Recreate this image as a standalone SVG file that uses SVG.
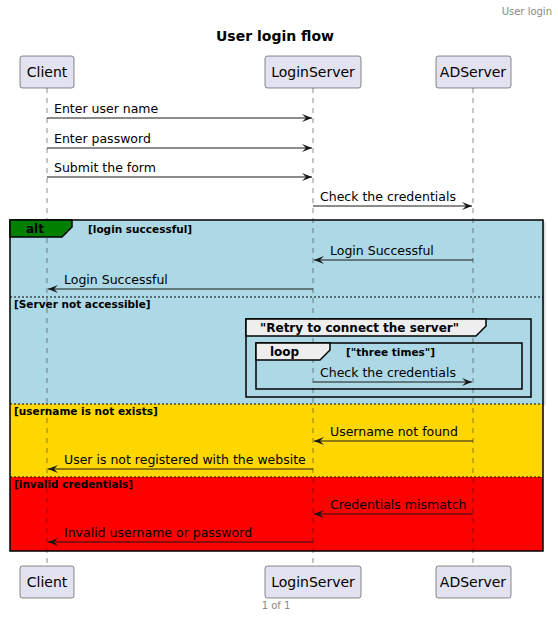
<svg xmlns="http://www.w3.org/2000/svg" width="558" height="618" viewBox="0 0 558 618">
<defs>
<marker id="ah" viewBox="0 0 10 8" refX="10" refY="4" markerWidth="10" markerHeight="8" markerUnits="userSpaceOnUse" orient="auto">
<path d="M0,0 L10,4 L0,8 L4,4 Z" fill="#181818"/>
</marker>
<filter id="sh" x="-5%" y="-5%" width="110%" height="110%">
<feDropShadow dx="1.5" dy="1.5" stdDeviation="1" flood-color="#000" flood-opacity="0.3"/>
</filter>
</defs>
<style>
text{font-family:"DejaVu Sans","Noto Sans",sans-serif;fill:#000}
.p rect{fill:#E2E2F0;stroke:#181818;stroke-width:0.5}
.p text{font-size:14px;text-anchor:middle}
.life{stroke:#181818;stroke-width:0.5;stroke-dasharray:5,5}
.msg{stroke:#181818;stroke-width:1;fill:none;marker-end:url(#ah)}
.ml{font-size:12.5px}
.g{font-size:10.5px;font-weight:bold}
.sep{stroke:#000;stroke-width:1;stroke-dasharray:2,2}
.fr{fill:none;stroke:#000;stroke-width:1.5}
.tab{stroke:#000;stroke-width:1.5}
</style>
<rect width="558" height="618" fill="#fff"/>
<text x="552" y="15" font-size="10" fill="#888" style="fill:#888" text-anchor="end">User login</text>
<text x="275" y="41" font-size="14" font-weight="bold" text-anchor="middle">User login flow</text>

<g id="frames">
<rect x="10" y="220" width="533" height="184" fill="#ADD8E6" filter="url(#sh)"/>
<rect x="10" y="404" width="533" height="73" fill="#FFD700"/>
<rect x="10" y="477" width="533" height="74" fill="#FF0000"/>
</g>

<g id="lifelines">
<line class="life" x1="47" y1="88" x2="47" y2="566"/>
<line class="life" x1="313" y1="88" x2="313" y2="566"/>
<line class="life" x1="473" y1="88" x2="473" y2="566"/>
</g>

<g id="alt">
<rect class="fr" x="10" y="220" width="533" height="331"/>
<path class="tab" d="M10,220 H72 V227 L62,237 H10 Z" fill="#008000"/>
<text x="26" y="233" font-size="12" font-weight="bold">alt</text>
<text class="g" x="88" y="233">[login successful]</text>
<line class="sep" x1="10" y1="297" x2="543" y2="297"/>
<text class="g" x="14" y="308">[Server not accessible]</text>
<line class="sep" x1="10" y1="404" x2="543" y2="404"/>
<text class="g" x="14" y="415">[username is not exists]</text>
<line class="sep" x1="10" y1="477" x2="543" y2="477"/>
<text class="g" x="14" y="488">[invalid credentials]</text>
</g>

<g id="group-retry">
<rect class="fr" x="246" y="319" width="285" height="78"/>
<path class="tab" d="M246,319 H486 V326 L476,336 H246 Z" fill="#EEEEEE"/>
<text x="260" y="332" font-size="12" font-weight="bold">"Retry to connect the server"</text>
</g>

<g id="loop">
<rect class="fr" x="256" y="343" width="266" height="46"/>
<path class="tab" d="M256,343 H330 V350 L320,360 H256 Z" fill="#EEEEEE"/>
<text x="270" y="356" font-size="12" font-weight="bold">loop</text>
<text class="g" x="346" y="356">["three times"]</text>
</g>

<g id="connectors">
<line class="msg" x1="47" y1="118" x2="312" y2="118"/>
<text class="ml" x="54" y="113">Enter user name</text>
<line class="msg" x1="47" y1="148" x2="312" y2="148"/>
<text class="ml" x="54" y="143">Enter password</text>
<line class="msg" x1="47" y1="177" x2="312" y2="177"/>
<text class="ml" x="54" y="172">Submit the form</text>
<line class="msg" x1="313" y1="206" x2="472" y2="206"/>
<text class="ml" x="320" y="201">Check the credentials</text>
<line class="msg" x1="473" y1="260" x2="314" y2="260"/>
<text class="ml" x="330" y="255">Login Successful</text>
<line class="msg" x1="313" y1="289" x2="48" y2="289"/>
<text class="ml" x="64" y="284">Login Successful</text>
<line class="msg" x1="313" y1="382" x2="472" y2="382"/>
<text class="ml" x="320" y="377">Check the credentials</text>
<line class="msg" x1="473" y1="441" x2="314" y2="441"/>
<text class="ml" x="330" y="436">Username not found</text>
<line class="msg" x1="313" y1="469" x2="48" y2="469"/>
<text class="ml" x="64" y="464">User is not registered with the website</text>
<line class="msg" x1="473" y1="514" x2="314" y2="514"/>
<text class="ml" x="330" y="509">Credentials mismatch</text>
<line class="msg" x1="313" y1="542" x2="48" y2="542"/>
<text class="ml" x="64" y="537">Invalid username or password</text>
</g>

<g id="client" class="p">
<rect x="20" y="56" width="54" height="32" rx="2.5"/>
<text x="47" y="77">Client</text>
<rect x="20" y="566" width="54" height="32" rx="2.5"/>
<text x="47" y="587">Client</text>
</g>
<g id="loginserver" class="p">
<rect x="265" y="56" width="96" height="32" rx="2.5"/>
<text x="313" y="77">LoginServer</text>
<rect x="265" y="566" width="96" height="32" rx="2.5"/>
<text x="313" y="587">LoginServer</text>
</g>
<g id="adserver" class="p">
<rect x="436" y="56" width="75" height="32" rx="2.5"/>
<text x="473" y="77">ADServer</text>
<rect x="436" y="566" width="75" height="32" rx="2.5"/>
<text x="473" y="587">ADServer</text>
</g>
<text x="276" y="609" font-size="10" style="fill:#888" text-anchor="middle">1 of 1</text>
</svg>
